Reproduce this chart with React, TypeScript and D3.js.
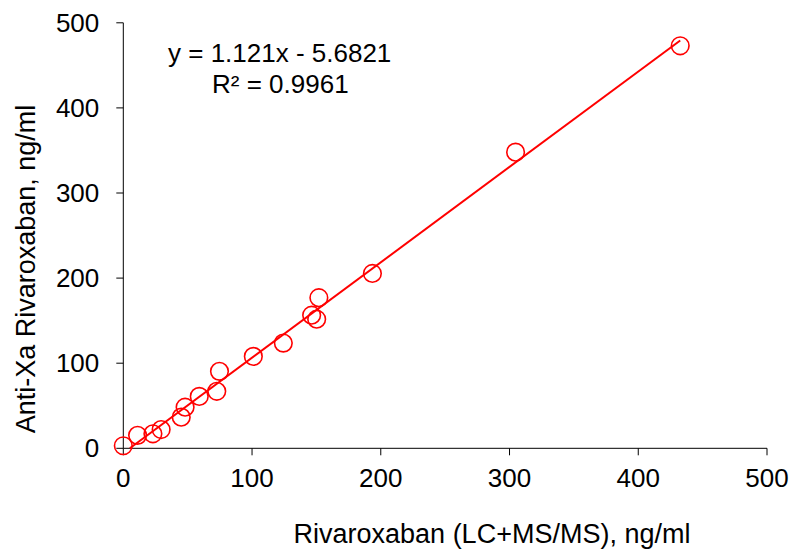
import React from "react";
import * as d3 from "d3";

const xValues = [0, 11.1, 23, 29.4, 45, 48, 59, 72.6, 74.7, 101, 124.3, 146.3, 150.2, 151.9, 193.5, 304.7, 432.6];
const yValues = [3, 15.2, 17, 22, 36.6, 48.3, 61, 67, 90.4, 108, 123.6, 156.4, 151.7, 177, 205.5, 348, 473];
const xTicks = [0, 100, 200, 300, 400, 500];
const yTicks = [0, 100, 200, 300, 400, 500];
const slope = 1.121;
const intercept = -5.6821;
const equationText = "y = 1.121x - 5.6821";
const r2Text = "R² = 0.9961";
const xTitle = "Rivaroxaban (LC+MS/MS), ng/ml";
const yTitle = "Anti-Xa Rivaroxaban, ng/ml";

export default function App() {
  const W = 792, H = 549;
  const x = d3.scaleLinear().domain([0, 500]).range([123.3, 767]);
  const y = d3.scaleLinear().domain([0, 500]).range([448.3, 22.8]);
  const font = "'Liberation Sans', Arial, sans-serif";
  const red = "#ff0000";
  const xMin = d3.min(xValues) as number;
  const xMax = d3.max(xValues) as number;
  const xStart = Math.max(xMin, -intercept / slope);
  const line = d3.line<number>().x((v) => x(v)).y((v) => y(slope * v + intercept));
  const fs = 26;
  const tfs = 27;
  return (
    <svg width={W} height={H} style={{ position: "absolute", left: 0, top: 0 }}>
      <rect width={W} height={H} fill="#fff" />
      <line x1={x(0)} x2={x(0)} y1={y(0)} y2={y(500)} stroke="#000" strokeWidth={1} />
      <line x1={x(0)} x2={x(500)} y1={y(0)} y2={y(0)} stroke="#000" strokeWidth={1} />
      {yTicks.map((t) => (
        <g key={"y" + t}>
          <line x1={x(0) - 7} x2={x(0)} y1={y(t)} y2={y(t)} stroke="#000" strokeWidth={1} />
          <text x={x(0) - 24} y={y(t) + 9} textAnchor="end" fontFamily={font} fontSize={fs} fill="#000">{t}</text>
        </g>
      ))}
      {xTicks.map((t) => (
        <g key={"x" + t}>
          <line x1={x(t)} x2={x(t)} y1={y(0)} y2={y(0) + 7} stroke="#000" strokeWidth={1} />
          <text x={x(t)} y={487} textAnchor="middle" fontFamily={font} fontSize={fs} fill="#000">{t}</text>
        </g>
      ))}
      <path d={line([xStart, xMax]) || ""} stroke={red} strokeWidth={2} fill="none" />
      {xValues.map((v, i) => (
        <circle key={i} cx={x(v)} cy={y(yValues[i])} r={8.8} fill="none" stroke={red} strokeWidth={1.6} />
      ))}
      <text x={168} y={62} fontFamily={font} fontSize={fs} fill="#000">{equationText}</text>
      <text x={212} y={93} fontFamily={font} fontSize={fs} fill="#000">{r2Text}</text>
      <text x={492} y={543} textAnchor="middle" fontFamily={font} fontSize={tfs} fill="#000">{xTitle}</text>
      <text transform={`translate(35,269) rotate(-90)`} textAnchor="middle" fontFamily={font} fontSize={tfs} fill="#000">{yTitle}</text>
    </svg>
  );
}
